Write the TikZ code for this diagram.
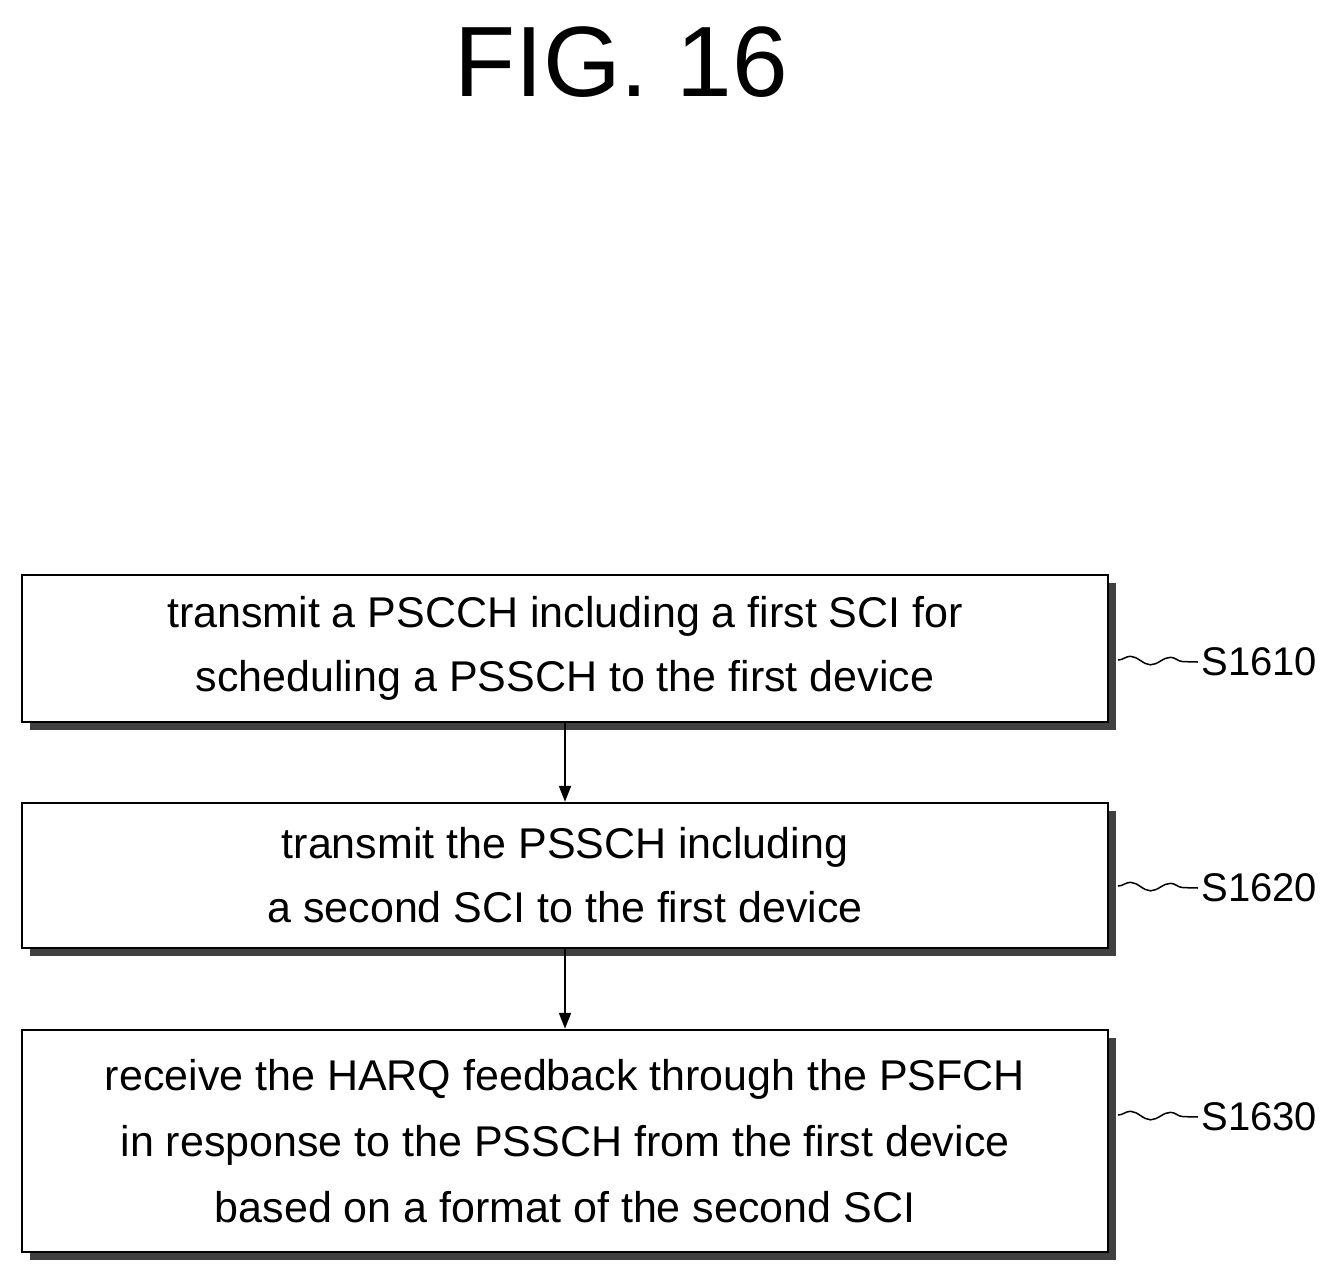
\documentclass[tikz,border=0pt]{standalone}
\usepackage{fontspec}
\setmainfont{Liberation Sans}
\usetikzlibrary{arrows.meta,decorations.pathmorphing}
\begin{document}
\begin{tikzpicture}[x=1pt,y=-1pt,
  box/.style={draw,line width=2.5pt,fill=white,align=center,font=\fontsize{43}{64}\selectfont,inner sep=0pt},
  shadow/.style={fill=black!75},
  arr/.style={line width=2pt,-{Triangle[length=16pt,width=12pt]}},
  sq/.style={line width=1.5pt,decorate,decoration={snake,amplitude=4pt,segment length=40pt}},
  lab/.style={font=\fontsize{40}{48}\selectfont,anchor=west}]
\useasboundingbox (0,0) rectangle (1342,1277);
\node[font=\fontsize{100}{110}\selectfont] (title) at (621,62) {FIG. 16};
\fill[shadow] (30,583) rectangle (1116,730);
\fill[shadow] (30,811) rectangle (1116,956);
\fill[shadow] (30,1038) rectangle (1116,1260);
\node[box,minimum width=1086pt,minimum height=147pt] (b1) at (565,648.5) {transmit a PSCCH including a first SCI for\\scheduling a PSSCH to the first device};
\node[box,minimum width=1086pt,minimum height=145pt] (b2) at (565,875.5) {transmit the PSSCH including\\a second SCI to the first device};
\node[box,minimum width=1086pt,minimum height=222pt,font=\fontsize{43}{66}\selectfont] (b3) at (565,1141) {receive the HARQ feedback through the PSFCH\\in response to the PSSCH from the first device\\based on a format of the second SCI};
\draw[arr] (b1.south) -- (b2.north);
\draw[arr] (b2.south) -- (b3.north);
\node[lab] (l1) at (1198,662) {S1610};
\node[lab] (l2) at (1198,888) {S1620};
\node[lab] (l3) at (1198,1117) {S1630};
\coordinate (c1) at (1118,660);
\coordinate (c2) at (1118,886);
\coordinate (c3) at (1118,1115);
\draw[sq] (c1) -- (l1.west);
\draw[sq] (c2) -- (l2.west);
\draw[sq] (c3) -- (l3.west);
\end{tikzpicture}
\end{document}
